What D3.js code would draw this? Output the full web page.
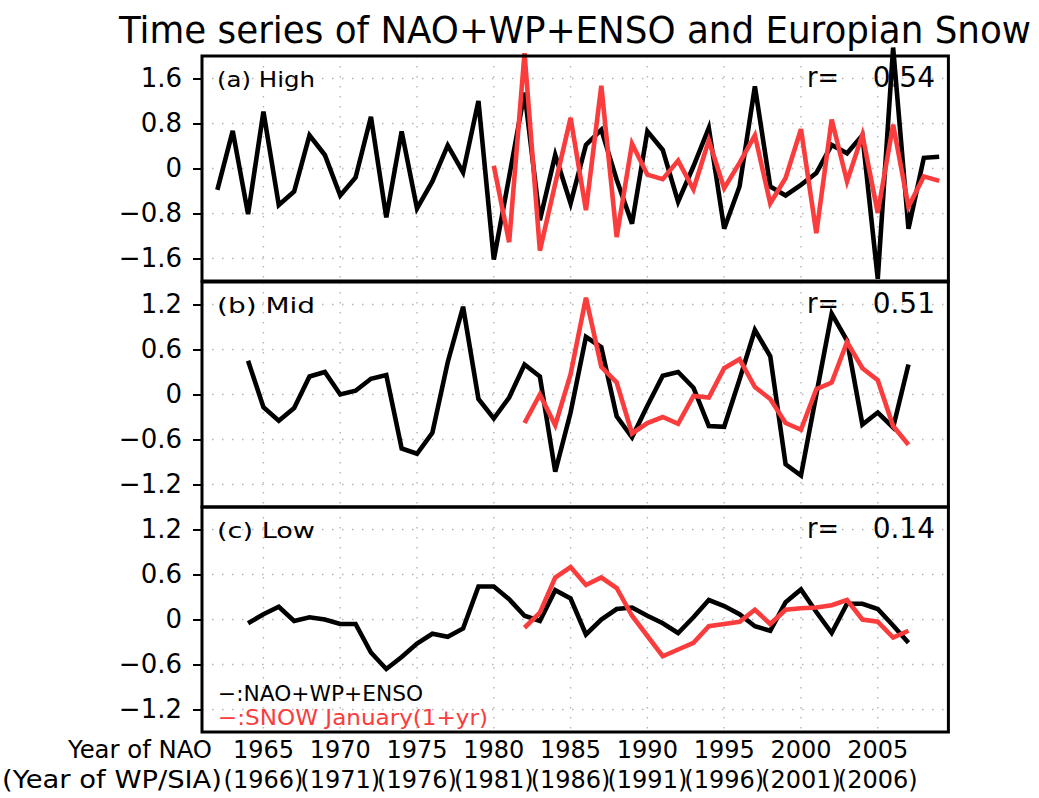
<!DOCTYPE html>
<html>
<head>
<meta charset="utf-8">
<script src="https://cdn.jsdelivr.net/npm/d3@7"></script>
<style>
  html, body { margin: 0; padding: 0; background: #fff; }
  svg { display: block; font-family: "DejaVu Sans", sans-serif; }
</style>
</head>
<body>
<svg id="chart" width="1039" height="798"></svg>
<script>
// ---------------- data ----------------
const titleText = "Time series of NAO+WP+ENSO and Europian Snow";
const panelLabels = ["(a) High", "(b) Mid", "(c) Low"];
const corrValues = ["0.54", "0.51", "0.14"];

const xTickYears = [1965, 1970, 1975, 1980, 1985, 1990, 1995, 2000, 2005];
const wpTickLabels = ["(1966)", "(1971)", "(1976)", "(1981)", "(1986)", "(1991)", "(1996)", "(2001)", "(2006)"];
const yTicksA = [-1.6, -0.8, 0, 0.8, 1.6];
const yTicksBC = [-1.2, -0.6, 0, 0.6, 1.2];

// (a) High
const climStartA = 1962;
const climA = [-0.38, 0.67, -0.81, 1.01, -0.65, -0.41, 0.59, 0.24, -0.48, -0.16,
               0.92, -0.87, 0.66, -0.71, -0.23, 0.41, -0.07, 1.20, -1.62, -0.15,
               1.35, -0.92, 0.24, -0.62, 0.42, 0.69, -0.20, -0.98, 0.66, 0.33,
               -0.59, 0.04, 0.72, -1.07, -0.32, 1.46, -0.32, -0.48, -0.29, -0.08,
               0.42, 0.27, 0.59, -1.96, 2.15, -1.07, 0.19, 0.21];
const snowStartA = 1980;
const snowA = [0.05, -1.31, 2.05, -1.46, -0.27, 0.90, -0.74, 1.47, -1.22, 0.44,
               -0.11, -0.19, 0.14, -0.37, 0.50, -0.35, 0.10, 0.59, -0.62, -0.17,
               0.70, -1.15, 0.87, -0.23, 0.60, -0.79, 0.78, -0.68, -0.14, -0.22];

// (b) Mid
const climStartB = 1964;
const climB = [0.45, -0.17, -0.35, -0.18, 0.24, 0.30, 0.00, 0.05, 0.21, 0.26,
               -0.72, -0.79, -0.51, 0.43, 1.17, -0.06, -0.32, -0.04, 0.40, 0.24,
               -1.03, -0.24, 0.77, 0.63, -0.29, -0.57, -0.15, 0.25, 0.30, 0.09,
               -0.42, -0.43, 0.20, 0.86, 0.51, -0.93, -1.08, 0.00, 1.08, 0.72,
               -0.40, -0.24, -0.44, 0.40];
const snowStartB = 1982;
const snowB = [-0.38, 0.00, -0.41, 0.27, 1.29, 0.37, 0.16, -0.52, -0.38, -0.30,
               -0.39, -0.02, -0.04, 0.35, 0.47, 0.10, -0.06, -0.38, -0.47, 0.07,
               0.16, 0.70, 0.35, 0.19, -0.42, -0.67];

// (c) Low
const climStartC = 1964;
const climC = [-0.05, 0.07, 0.17, -0.02, 0.03, 0.00, -0.06, -0.06, -0.44, -0.66,
               -0.50, -0.32, -0.19, -0.23, -0.12, 0.44, 0.44, 0.27, 0.05, -0.02,
               0.39, 0.28, -0.20, 0.00, 0.14, 0.16, 0.05, -0.05, -0.18, 0.03,
               0.26, 0.18, 0.07, -0.09, -0.15, 0.23, 0.40, 0.10, -0.18, 0.21,
               0.21, 0.14, -0.08, -0.31];
const snowStartC = 1982;
const snowC = [-0.11, 0.09, 0.56, 0.70, 0.46, 0.56, 0.42, 0.05, -0.22, -0.49,
               -0.40, -0.31, -0.09, -0.06, -0.03, 0.13, -0.06, 0.13, 0.15, 0.16,
               0.19, 0.26, 0.00, -0.03, -0.24, -0.15];

const legendClim = "\u2212:NAO+WP+ENSO";
const legendSnow = "\u2212:SNOW January(1+yr)";

// ---------------- layout ----------------
const RED = "#fa3c3c";
const svg = d3.select("#chart");
const left = 202, right = 948.4;
const x = d3.scaleLinear().domain([1961, 2009.6]).range([left, right]);

const toSeries = (start, vals) => vals.map((v, i) => ({ year: start + i, v }));

const panels = [
  { label: panelLabels[0], r: corrValues[0], top: 56, bottom: 281, dom: [-2, 2], ticks: yTicksA,
    clim: toSeries(climStartA, climA), snow: toSeries(snowStartA, snowA) },
  { label: panelLabels[1], r: corrValues[1], top: 282, bottom: 507, dom: [-1.5, 1.5], ticks: yTicksBC,
    clim: toSeries(climStartB, climB), snow: toSeries(snowStartB, snowB) },
  { label: panelLabels[2], r: corrValues[2], top: 507, bottom: 732, dom: [-1.5, 1.5], ticks: yTicksBC,
    clim: toSeries(climStartC, climC), snow: toSeries(snowStartC, snowC) }
];

const fmt = d => d === 0 ? "0" : d3.format(".1f")(d);

panels.forEach((p, i) => {
  const y = d3.scaleLinear().domain(p.dom).range([p.bottom, p.top]);
  const g = svg.append("g");

  // grid
  g.selectAll(".hg").data(p.ticks).join("line")
    .attr("x1", left).attr("x2", right)
    .attr("y1", d => y(d)).attr("y2", d => y(d))
    .attr("stroke", "#b4b4b4").attr("stroke-width", 1.4)
    .attr("stroke-dasharray", "1.5,8.5");
  g.selectAll(".vg").data(xTickYears).join("line")
    .attr("x1", d => x(d)).attr("x2", d => x(d))
    .attr("y1", p.top).attr("y2", p.bottom)
    .attr("stroke", "#b4b4b4").attr("stroke-width", 1.4)
    .attr("stroke-dasharray", "1.5,8.5");

  // y axis
  const ax = g.append("g").attr("transform", `translate(${left},0)`)
    .call(d3.axisLeft(y).tickValues(p.ticks).tickFormat(fmt).tickSize(9).tickPadding(11));
  ax.select(".domain").remove();
  ax.selectAll(".tick line").attr("stroke", "#000").attr("stroke-width", 2);
  ax.selectAll(".tick text").attr("font-size", 26).attr("font-family", "DejaVu Sans").attr("fill", "#000");

  // lines
  const line = d3.line().x(d => x(d.year)).y(d => y(d.v));
  g.append("path").datum(p.clim).attr("d", line)
    .attr("fill", "none").attr("stroke", "#000").attr("stroke-width", 4.6)
    .attr("stroke-linejoin", "miter").attr("stroke-miterlimit", 4);
  g.append("path").datum(p.snow).attr("d", line)
    .attr("fill", "none").attr("stroke", RED).attr("stroke-width", 4.6)
    .attr("stroke-linejoin", "miter").attr("stroke-miterlimit", 4);

  // frame
  g.append("rect").attr("x", left).attr("y", p.top)
    .attr("width", right - left).attr("height", p.bottom - p.top)
    .attr("fill", "none").attr("stroke", "#000").attr("stroke-width", 3);

  // labels
  g.append("text").attr("x", 217).attr("y", p.top + 31)
    .attr("font-size", 22).attr("textLength", 98).attr("lengthAdjust", "spacingAndGlyphs")
    .text(p.label);
  g.append("text").attr("x", 807).attr("y", p.top + 31)
    .attr("font-size", 28).attr("textLength", 32).attr("lengthAdjust", "spacingAndGlyphs")
    .text("r=");
  g.append("text").attr("x", 935).attr("y", p.top + 31).attr("text-anchor", "end")
    .attr("font-size", 28).text(p.r);
});

// legend in panel (c)
svg.append("text").attr("x", 218).attr("y", 701).attr("font-size", 21)
  .attr("textLength", 205).attr("lengthAdjust", "spacingAndGlyphs")
  .attr("fill", "#000").text(legendClim);
svg.append("text").attr("x", 218).attr("y", 725).attr("font-size", 21)
  .attr("textLength", 270).attr("lengthAdjust", "spacingAndGlyphs")
  .attr("fill", RED).text(legendSnow);

// title
svg.append("text").attr("x", 119).attr("y", 43).attr("font-size", 38)
  .attr("font-family", "'DejaVu Sans Condensed', 'Liberation Sans Narrow', sans-serif")
  .attr("textLength", 912).attr("lengthAdjust", "spacingAndGlyphs")
  .attr("fill", "#000").text(titleText);

// bottom labels
svg.append("text").attr("x", 212).attr("y", 758).attr("text-anchor", "end")
  .attr("font-size", 24).attr("textLength", 144).attr("lengthAdjust", "spacingAndGlyphs")
  .text("Year of NAO");
svg.append("text").attr("x", 222).attr("y", 788).attr("text-anchor", "end")
  .attr("font-size", 24).attr("textLength", 220).attr("lengthAdjust", "spacingAndGlyphs")
  .text("(Year of WP/SIA)");
svg.selectAll(".xl1").data(xTickYears).join("text")
  .attr("x", d => x(d)).attr("y", 758).attr("text-anchor", "middle")
  .attr("font-size", 24).text(d => d);
svg.selectAll(".xl2").data(xTickYears).join("text")
  .attr("x", d => x(d)).attr("y", 788).attr("text-anchor", "middle")
  .attr("font-size", 24).text((d, i) => wpTickLabels[i]);
</script>
</body>
</html>
